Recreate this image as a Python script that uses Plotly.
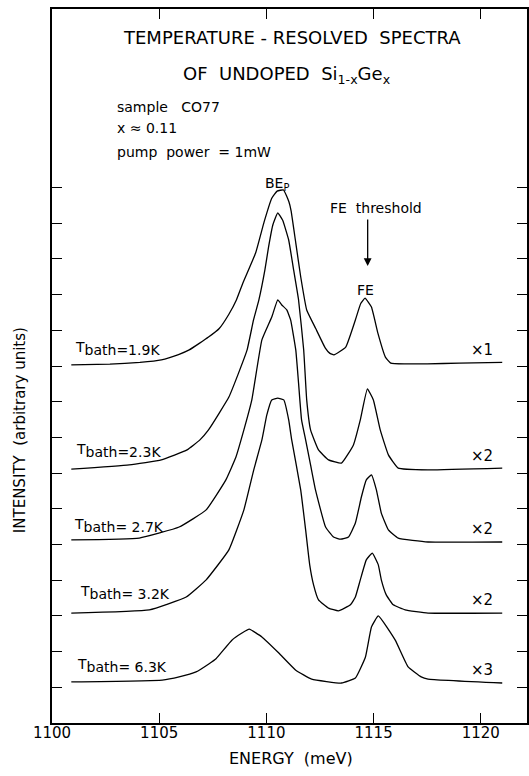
import plotly.graph_objects as go

# ---------------- data (energy in meV, intensity in arbitrary units, offset traces) -------------
temps = ["1.9K", "2.3K", "2.7K", "3.2K", "6.3K"]
scales = ["×1", "×2", "×2", "×2", "×3"]

e_19 = [1100.9, 1102.7, 1104.1, 1105.1, 1105.9, 1106.4, 1107.3, 1107.8, 1108.25, 1108.6, 1108.9,
        1109.5, 1109.9, 1110.25, 1110.5, 1110.8, 1111.05, 1111.15, 1111.37, 1111.6, 1111.88, 1112.3,
        1112.75, 1112.95, 1113.15, 1113.7, 1114.15, 1114.4, 1114.6, 1114.9, 1115.2, 1115.55, 1115.8,
        1116.5, 1117.5, 1119.0, 1121.0]
i_19 = [10.03, 10.05, 10.10, 10.17, 10.32, 10.45, 10.81, 11.05, 11.45, 11.85, 12.32,
        13.17, 14.05, 14.70, 14.90, 14.93, 14.60, 14.35, 13.45, 12.50, 11.57, 11.05,
        10.50, 10.36, 10.31, 10.53, 11.29, 11.75, 11.90, 11.65, 10.92, 10.25, 10.08,
        10.06, 10.06, 10.08, 10.10]

e_23 = [1100.9, 1103.6, 1105.1, 1106.3, 1106.9, 1107.3, 1107.8, 1108.25, 1108.7, 1109.1, 1109.4,
        1109.65, 1109.93, 1110.1, 1110.3, 1110.53, 1110.76, 1111.04, 1111.27, 1111.5, 1111.74,
        1111.88, 1112.06, 1112.43, 1112.9, 1113.5, 1114.06, 1114.38, 1114.71, 1114.99, 1115.31,
        1115.69, 1116.15, 1117.54, 1121.0]
i_23 = [7.11, 7.23, 7.37, 7.65, 7.93, 8.21, 8.68, 9.13, 9.80, 10.45, 11.29,
        11.85, 12.69, 13.33, 13.95, 14.29, 14.08, 13.53, 12.69, 11.85, 10.45,
        9.05, 8.21, 7.65, 7.37, 7.28, 7.79, 8.49, 9.36, 9.05, 8.21,
        7.51, 7.14, 7.09, 7.14]

e_27 = [1100.9, 1104.07, 1105.93, 1107.19, 1108.11, 1108.58, 1108.95, 1109.32, 1109.79, 1110.25,
        1110.53, 1110.72, 1110.95, 1111.13, 1111.37, 1111.5, 1111.64, 1111.83, 1112.06, 1112.29,
        1112.76, 1113.13, 1113.46, 1113.83, 1114.15, 1114.43, 1114.66, 1114.9, 1115.13, 1115.36,
        1115.69, 1116.15, 1117.54, 1121.0]
i_27 = [5.13, 5.18, 5.49, 5.97, 6.81, 7.45, 8.21, 9.05, 10.73, 11.37,
        11.85, 11.71, 11.57, 11.29, 10.45, 9.52, 8.49, 7.93, 7.23, 6.53,
        5.49, 5.21, 5.15, 5.21, 5.60, 6.33, 6.81, 6.95, 6.53, 5.88,
        5.41, 5.18, 5.07, 5.07]

e_32 = [1100.9, 1104.54, 1106.26, 1107.19, 1108.25, 1108.95, 1109.41, 1109.79, 1110.02, 1110.25,
        1110.53, 1110.81, 1111.04, 1111.18, 1111.6, 1111.83, 1112.02, 1112.2, 1112.43, 1112.9,
        1113.36, 1113.92, 1114.15, 1114.38, 1114.66, 1114.94, 1115.22, 1115.36, 1115.59, 1115.92,
        1116.47, 1117.54, 1121.0]
i_32 = [3.08, 3.17, 3.53, 4.01, 4.85, 5.97, 7.09, 7.93, 8.63, 9.05,
        9.10, 9.05, 8.49, 7.93, 6.53, 5.41, 4.43, 3.87, 3.45, 3.22,
        3.14, 3.31, 3.53, 4.01, 4.57, 4.76, 4.43, 4.01, 3.59, 3.31,
        3.17, 3.08, 3.08]

e_63 = [1100.9, 1105.14, 1105.93, 1106.72, 1107.33, 1107.65, 1108.39, 1108.86, 1109.2, 1109.79,
        1110.58, 1111.37, 1112.11, 1113.5, 1114.15, 1114.62, 1114.9, 1115.22, 1116.01, 1116.61,
        1117.22, 1117.54, 1121.0]
i_63 = [1.15, 1.20, 1.29, 1.43, 1.66, 1.80, 2.32, 2.52, 2.63, 2.41,
        1.96, 1.48, 1.23, 1.12, 1.26, 1.85, 2.69, 3.00, 2.32, 1.57,
        1.29, 1.23, 1.12]

energies = [e_19, e_23, e_27, e_32, e_63]
intensities = [i_19, i_23, i_27, i_32, i_63]

x_ticks = [1100, 1105, 1110, 1115, 1120]
y_ticks = list(range(1, 16))

# ---------------- figure ----------------
W, H = 529, 776
ML, MR, MT, MB = 52, 0, 9, 53
PW, PH = W - ML - MR, H - MT - MB
NB = "\u00a0"


def P(x, y):
    """pixel position -> paper coordinates (for text placement only)"""
    return (x - ML) / PW, (H - MB - y) / PH


FONT = "DejaVu Sans"
fig = go.Figure()
for E, I in zip(energies, intensities):
    fig.add_trace(go.Scatter(x=E, y=I, mode="lines",
                             line=dict(color="black", width=1.3, shape="spline", smoothing=0.35),
                             showlegend=False, hoverinfo="skip"))

ann = []


def text(t, x, y, size=15, xanchor="left", yanchor="middle"):
    px, py = P(x, y)
    ann.append(dict(text=t, x=px, y=py, xref="paper", yref="paper", showarrow=False,
                    xanchor=xanchor, yanchor=yanchor, font=dict(family=FONT, size=size, color="black")))


text("TEMPERATURE - RESOLVED" + NB * 2 + "SPECTRA", 293, 38, size=18, xanchor="center")
text("OF" + NB * 2 + "UNDOPED" + NB * 2 + "Si<sub>1-x</sub>Ge<sub>x</sub>", 288, 75, size=18,
     xanchor="center")
text("sample" + NB * 3 + "CO77", 115, 107, size=14)
text("x ≈ 0.11", 115, 128, size=14)
text("pump" + NB * 2 + "power" + NB * 2 + "= 1mW", 115, 152, size=14)
text("BE<sub>P</sub>", 264, 184, size=14)
text("FE" + NB * 2 + "threshold", 377, 208, size=14, xanchor="center")
text("FE", 367, 290, size=14, xanchor="center")

# arrow for FE threshold
ax_, ay_ = P(369, 266)
ann.append(dict(text="", x=ax_, y=ay_, xref="paper", yref="paper", showarrow=True,
                ax=0, ay=-48, arrowhead=2, arrowsize=1.2, arrowwidth=1.3, arrowcolor="black"))

# temperature labels: raised T, then "bath=..." at the lower level
t_pos = [(73, 348), (74, 450), (72, 525), (78, 592), (75, 665)]
t_eq = ["=", "=", "= ", "= ", "= "]
for temp, eq, (tx, ty) in zip(temps, t_eq, t_pos):
    label = ("T<sub><span style='font-size:14px'>bath" + eq.replace(" ", NB) + temp + "</span></sub>")
    text(label, tx, ty, size=14)

s_pos = [350, 456, 529, 600, 670]
for s, sy in zip(scales, s_pos):
    text(s, 484, sy, size=15, xanchor="center")

text("ENERGY" + NB * 2 + "(meV)", 292, 758, size=16, xanchor="center")
lx, ly = P(20, 430)
ann.append(dict(text="INTENSITY" + NB * 2 + "(arbitrary units)", x=lx, y=ly, xref="paper", yref="paper",
                showarrow=False, textangle=-90, xanchor="center", yanchor="middle",
                font=dict(family=FONT, size=15, color="black")))

fig.update_layout(
    width=W, height=H, margin=dict(l=ML, r=MR, t=MT, b=MB, pad=0),
    paper_bgcolor="white", plot_bgcolor="white",
    annotations=ann, showlegend=False,
    xaxis=dict(range=[1100, 1100 + PW / 21.53], tickvals=x_ticks, ticktext=[str(v) for v in x_ticks],
               ticks="inside", ticklen=10, tickwidth=1.3, tickcolor="black",
               showline=True, linecolor="black", linewidth=2, mirror="ticks",
               showgrid=False, zeroline=False, ticklabelstandoff=-5,
               tickfont=dict(family=FONT, size=15, color="black")),
    yaxis=dict(range=[0, 20], tickvals=y_ticks, showticklabels=False,
               ticks="inside", ticklen=10, tickwidth=1.3, tickcolor="black",
               showline=True, linecolor="black", linewidth=2, mirror="ticks",
               showgrid=False, zeroline=False),
)

fig.write_html("out.html")
